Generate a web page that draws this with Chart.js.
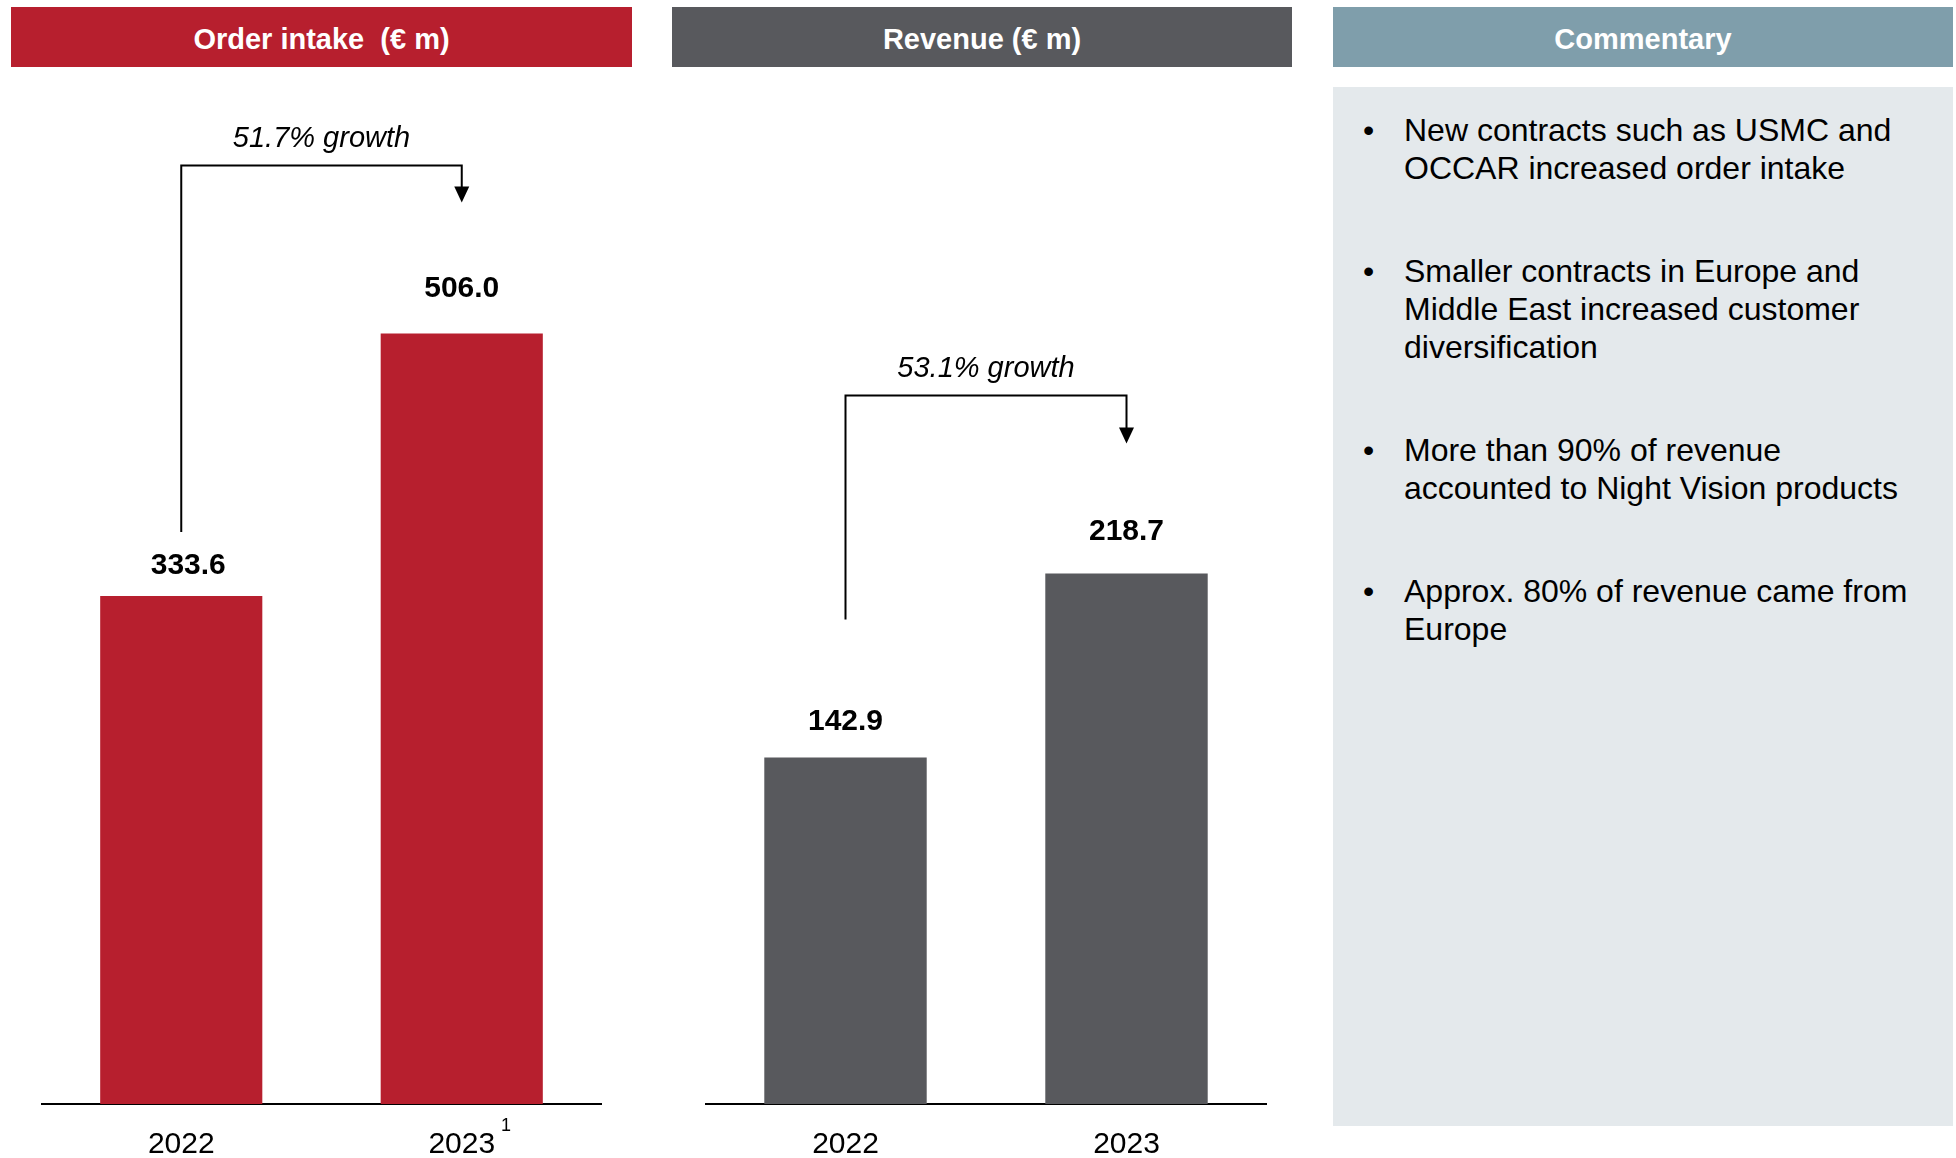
<!DOCTYPE html>
<html>
<head>
<meta charset="utf-8">
<script src="https://cdn.jsdelivr.net/npm/chart.js@4.4.1/dist/chart.umd.min.js"></script>
<style>
  body { margin: 0; width: 1956px; height: 1158px; background: #fff; overflow: hidden; position: relative;
         font-family: "Liberation Sans", Arial, Helvetica, sans-serif; }
  .head { position: absolute; top: 7px; height: 60px; line-height: 64px; text-align: center;
          color: #fff; font-weight: bold; font-size: 29px; white-space: pre; }
  .box { position: absolute; }
  #notes { position: absolute; left: 1333px; top: 87px; width: 620px; height: 1039px; background: #e4e9ec;
           box-sizing: border-box; padding-top: 24px; }
  .pt { position: relative; padding-left: 71px; font-size: 32px; line-height: 38px; color: #000;
        white-space: nowrap; margin-bottom: 65px; }
  .pt:before { content: "\2022"; position: absolute; left: 30px; top: 0; }
</style>
</head>
<body>

<div class="head" style="left:11px;width:621px;background:#b71f2e;">Order intake  (€ m)</div>
<div class="head" style="left:672px;width:620px;background:#58595d;">Revenue (€ m)</div>
<div class="head" style="left:1333px;width:620px;background:#7f9eab;">Commentary</div>

<div class="box" style="left:41px;top:67px;width:561px;height:1091px;"><canvas id="orderChart"></canvas></div>
<div class="box" style="left:705px;top:67px;width:562px;height:1091px;"><canvas id="revenueChart"></canvas></div>

<div id="notes">
  <div class="pt">New contracts such as USMC and<br>OCCAR increased order intake</div>
  <div class="pt">Smaller contracts in Europe and<br>Middle East increased customer<br>diversification</div>
  <div class="pt">More than 90% of revenue<br>accounted to Night Vision products</div>
  <div class="pt">Approx. 80% of revenue came from<br>Europe</div>
</div>

<script>
// data
const years = ['2022', '2023'];
const orderIntake = [333.6, 506.0];
const revenue = [142.9, 218.7];
const orderGrowth = '51.7% growth';
const revenueGrowth = '53.1% growth';
const orderNotes = ['', '1'];
const revenueNotes = ['', ''];

Chart.defaults.font.family = '"Liberation Sans", Arial, Helvetica, sans-serif';
Chart.defaults.color = '#000';

// labels over bars, growth bracket, footnote marks
function annotations(opts) {
    return {
        id: 'annot',
        afterDraw: function (chart) {
            let ctx = chart.ctx;
            let bars = chart.getDatasetMeta(0).data;
            let values = chart.data.datasets[0].data;
            ctx.save();
            ctx.fillStyle = '#000';
            ctx.strokeStyle = '#000';
            ctx.textAlign = 'center';
            ctx.textBaseline = 'middle';

            ctx.font = 'bold 30px ' + Chart.defaults.font.family;
            for (let i = 0; i < bars.length; i++) {
                ctx.fillText(values[i].toFixed(1), bars[i].x + opts.shift[i], bars[i].y - opts.lift[i]);
            }

            let a = bars[0], b = bars[1];
            let topY = b.y - opts.rise;
            let tipY = b.y - opts.tipGap;
            ctx.lineWidth = 2;
            ctx.beginPath();
            ctx.moveTo(a.x, a.y - opts.legGap);
            ctx.lineTo(a.x, topY);
            ctx.lineTo(b.x, topY);
            ctx.lineTo(b.x, tipY - 12);
            ctx.stroke();
            ctx.beginPath();
            ctx.moveTo(b.x - 7.5, tipY - 16);
            ctx.lineTo(b.x + 7.5, tipY - 16);
            ctx.lineTo(b.x, tipY);
            ctx.closePath();
            ctx.fill();

            ctx.font = 'italic 29px ' + Chart.defaults.font.family;
            ctx.fillText(opts.growth, (a.x + b.x) / 2, topY - 27);

            // superscript after tick label
            let axisY = chart.scales.x.top;
            for (let i = 0; i < bars.length; i++) {
                if (!opts.notes[i]) continue;
                ctx.font = '30px ' + Chart.defaults.font.family;
                let w = ctx.measureText(chart.data.labels[i]).width;
                ctx.font = '18px ' + Chart.defaults.font.family;
                ctx.textAlign = 'left';
                ctx.fillText(opts.notes[i], bars[i].x + w / 2 + 6, axisY + 22);
            }
            ctx.restore();
        }
    };
}

function barChart(id, values, color, yMax, opts) {
    return new Chart(document.getElementById(id), {
        type: 'bar',
        data: {
            labels: years,
            datasets: [{
                data: values,
                backgroundColor: color,
                barPercentage: 0.578,
                categoryPercentage: 1
            }]
        },
        options: {
            responsive: true,
            maintainAspectRatio: false,
            animation: false,
            layout: { padding: 0 },
            plugins: { legend: { display: false }, tooltip: { enabled: false } },
            scales: {
                x: {
                    z: 1,
                    grid: { display: false, drawTicks: false },
                    border: { display: true, color: '#000', width: 2 },
                    ticks: { color: '#000', font: { size: 30 }, padding: 23 },
                    afterFit: function (scale) { scale.height = 54; }
                },
                y: { display: false, min: 0, max: yMax }
            }
        },
        plugins: [annotations(opts)]
    });
}

barChart('orderChart', orderIntake, '#b71f2e', 681, {
    growth: orderGrowth, notes: orderNotes,
    lift: [30, 45], shift: [7, 0], legGap: 64, rise: 168, tipGap: 131
});
barChart('revenueChart', revenue, '#58595d', 427.6, {
    growth: revenueGrowth, notes: revenueNotes,
    lift: [36, 42], shift: [0, 0], legGap: 138, rise: 178, tipGap: 130
});
</script>
</body>
</html>
